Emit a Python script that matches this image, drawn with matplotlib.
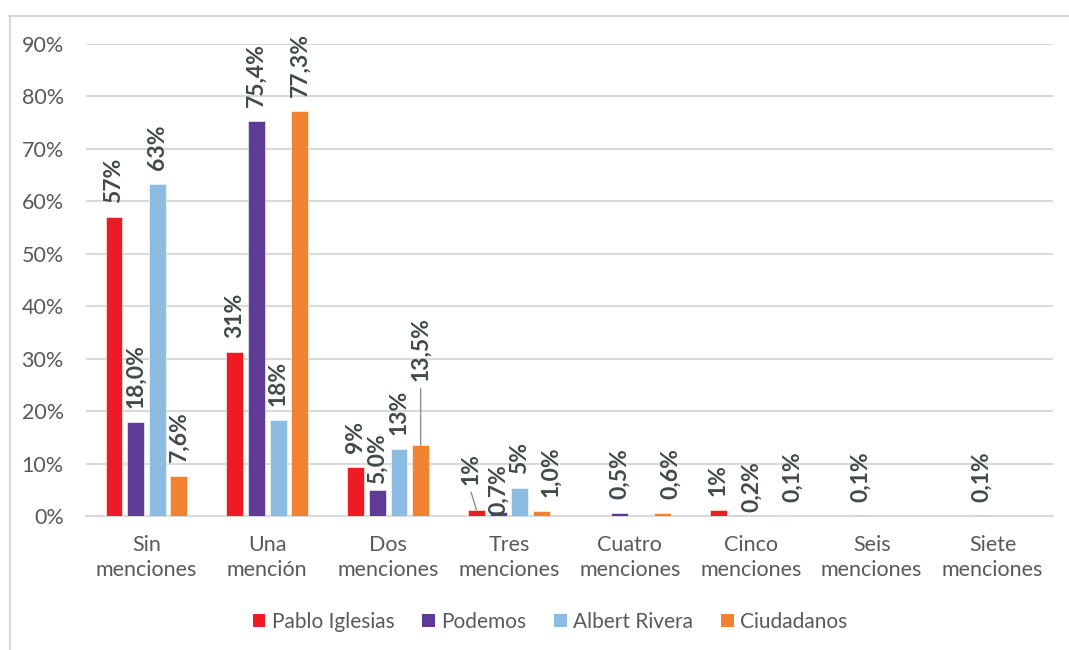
import numpy as np
import matplotlib
matplotlib.use("Agg")
import matplotlib.pyplot as plt
from matplotlib.patches import Patch
from matplotlib.lines import Line2D

# data
categories = ["Sin\nmenciones", "Una\nmención", "Dos\nmenciones", "Tres\nmenciones",
              "Cuatro\nmenciones", "Cinco\nmenciones", "Seis\nmenciones", "Siete\nmenciones"]
series_names = ["Pablo Iglesias", "Podemos", "Albert Rivera", "Ciudadanos"]
pablo_iglesias = [57.0, 31.3, 9.3, 1.1, 0.0, 1.1, 0.0, 0.0]
podemos = [18.0, 75.4, 5.0, 0.7, 0.5, 0.2, 0.1, 0.1]
albert_rivera = [63.4, 18.4, 12.8, 5.4, 0.0, 0.0, 0.0, 0.0]
ciudadanos = [7.6, 77.3, 13.5, 1.0, 0.6, 0.1, 0.0, 0.0]
yticks = [0, 10, 20, 30, 40, 50, 60, 70, 80, 90]

colors = ["#ED1C24", "#5F3A96", "#8DBCE2", "#F08232"]
decimals = [0, 1, 0, 1]
series = [pablo_iglesias, podemos, albert_rivera, ciudadanos]

# manual label nudges (series, category) -> (dx, dy) in points, leader line
nudges = {
    (3, 2): (0, 36, True),
    (1, 2): (0, -6, False),
    (0, 3): (-4, 8, True),
    (1, 3): (0, -12, False),
    (3, 3): (7, 0, False),
    (3, 4): (6, 0, False),
    (1, 5): (8, -8, False),
    (3, 5): (7, 0, False),
}

plt.rcParams['font.family'] = ['Lato', 'DejaVu Sans']

fig = plt.figure(figsize=(10.69, 6.5), dpi=100)
ax = fig.add_axes([86 / 1069, 1 - 516 / 650, (1053 - 86) / 1069, (516 - 44) / 650])

x = np.arange(len(categories))
step = 0.179
width = 0.14
for s, (vals, col) in enumerate(zip(series, colors)):
    xs = x + (s - 1.5) * step
    ax.bar(xs, vals, width=width, color=col, edgecolor="white", linewidth=0.4, zorder=3)
    for i, v in enumerate(vals):
        if v == 0:
            continue
        txt = ("%.*f%%" % (decimals[s], v)).replace(".", ",")
        dx, dy, leader = nudges.get((s, i), (0, 0, False))
        ax.annotate(txt, (xs[i], v), xytext=(dx, 10 + dy), textcoords="offset points",
                    rotation=90, ha="center", va="bottom", fontsize=16.5,
                    fontweight="bold", color="#404A4A", zorder=5)
        if leader:
            ax.annotate("", (xs[i], v), xytext=(dx, 5 + dy), textcoords="offset points",
                        arrowprops=dict(arrowstyle="-", color="#909090", lw=1.0,
                                        shrinkA=0, shrinkB=0), zorder=4)

ax.set_xlim(-0.5, len(categories) - 0.5)
ax.set_ylim(0, 90)
ax.set_yticks(yticks)
ax.set_yticklabels(["%d%%" % t for t in yticks])
ax.set_xticks(x)
ax.set_xticklabels(categories, linespacing=1.3)
ax.tick_params(axis="y", length=0, pad=16, labelsize=15.5, labelcolor="#595959")
ax.tick_params(axis="x", length=0, pad=14, labelsize=15.5, labelcolor="#595959")
ax.grid(axis="y", color="#D9D9D9", linewidth=1.5, zorder=0)
for sp in ["top", "right", "left"]:
    ax.spines[sp].set_visible(False)
ax.spines["bottom"].set_color("#D9D9D9")
ax.spines["bottom"].set_linewidth(1.5)

handles = [Patch(facecolor=c, edgecolor="none") for c in colors]
fig.legend(handles, series_names, loc="center", bbox_to_anchor=(550 / 1069, 1 - 622 / 650),
           ncol=4, frameon=False, fontsize=15, handlelength=0.6, handleheight=0.6,
           handletextpad=0.3, columnspacing=1.35, labelcolor="#595959")

# chart frame (top and left edges visible in the reference)
fig.add_artist(Line2D([9 / 1069, 1], [1 - 16 / 650] * 2, color="#D9D9D9", lw=1.5))
fig.add_artist(Line2D([10 / 1069] * 2, [0, 1 - 16 / 650], color="#D9D9D9", lw=1.5))

fig.savefig("out.png", dpi=100)
